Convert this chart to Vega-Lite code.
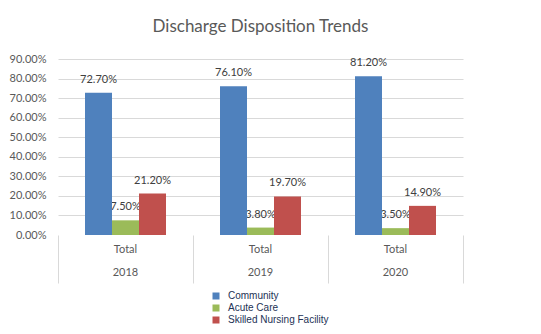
{
  "$schema": "https://vega.github.io/schema/vega-lite/v6.json",
  "width": 405,
  "height": 176,
  "autosize": {"type": "none"},
  "padding": {"left": 58, "top": 59, "right": 78, "bottom": 99},
  "background": "white",
  "title": {
    "text": "Discharge Disposition Trends",
    "font": "Lato",
    "fontSize": 17,
    "fontWeight": "normal",
    "color": "#595959",
    "anchor": "middle",
    "frame": "group",
    "offset": 17
  },
  "data": {
    "values": [
      {"year": "2018", "category": "Community", "value": 0.727},
      {"year": "2018", "category": "Acute Care", "value": 0.075},
      {"year": "2018", "category": "Skilled Nursing Facility", "value": 0.212},
      {"year": "2019", "category": "Community", "value": 0.761},
      {"year": "2019", "category": "Acute Care", "value": 0.038},
      {"year": "2019", "category": "Skilled Nursing Facility", "value": 0.197},
      {"year": "2020", "category": "Community", "value": 0.812},
      {"year": "2020", "category": "Acute Care", "value": 0.035},
      {"year": "2020", "category": "Skilled Nursing Facility", "value": 0.149}
    ]
  },
  "encoding": {
    "x": {
      "field": "year",
      "type": "nominal",
      "title": null,
      "scale": {"paddingInner": 0, "paddingOuter": 0},
      "axis": {
        "labelExpr": "datum.label ? ['Total', datum.label] : ''",
        "labelAngle": 0,
        "labelFont": "Lato",
        "labelFontSize": 11,
        "labelColor": "#595959",
        "labelLineHeight": 23,
        "labelBaseline": "top",
        "labelPadding": -40,
        "domain": false,
        "ticks": true,
        "tickSize": 48,
        "tickColor": "#D9D9D9",
        "bandPosition": 1,
        "tickExtra": true,
        "grid": false
      }
    },
    "xOffset": {
      "field": "category",
      "type": "nominal",
      "sort": ["Community", "Acute Care", "Skilled Nursing Facility"],
      "scale": {"paddingInner": 0, "paddingOuter": 1.1}
    },
    "y": {
      "field": "value",
      "type": "quantitative",
      "title": null,
      "scale": {"domain": [0, 0.9], "nice": false},
      "axis": {
        "values": [0, 0.1, 0.2, 0.3, 0.4, 0.5, 0.6, 0.7, 0.8, 0.9],
        "format": ".2%",
        "labelFont": "Lato",
        "labelFontSize": 11,
        "labelColor": "#595959",
        "labelPadding": 12,
        "domain": false,
        "ticks": false,
        "grid": true,
        "gridColor": "#D9D9D9",
        "gridOpacity": {"condition": {"test": "datum.value === 0", "value": 0}, "value": 1}
      }
    }
  },
  "layer": [
    {
      "mark": {"type": "text", "baseline": "alphabetic", "dy": -10, "font": "Lato", "fontSize": 11, "color": "#404040"},
      "encoding": {
        "text": {"field": "value", "type": "quantitative", "format": ".2%"}
      }
    },
    {
      "mark": {"type": "bar"},
      "encoding": {
        "color": {
          "field": "category",
          "type": "nominal",
          "sort": ["Community", "Acute Care", "Skilled Nursing Facility"],
          "scale": {
            "domain": ["Community", "Acute Care", "Skilled Nursing Facility"],
            "range": ["#4F81BD", "#9BBB59", "#C0504D"]
          },
          "legend": {
            "title": null,
            "orient": "none",
            "legendX": 153,
            "legendY": 232,
            "direction": "vertical",
            "symbolType": "square",
            "symbolSize": 49,
            "symbolStrokeWidth": 0,
            "labelFont": "Liberation Sans",
            "labelFontSize": 10,
            "labelColor": "#233255",
            "labelOffset": 7,
            "rowPadding": 2,
            "padding": 0
          }
        }
      }
    }
  ],
  "config": {
    "view": {"stroke": null}
  }
}
